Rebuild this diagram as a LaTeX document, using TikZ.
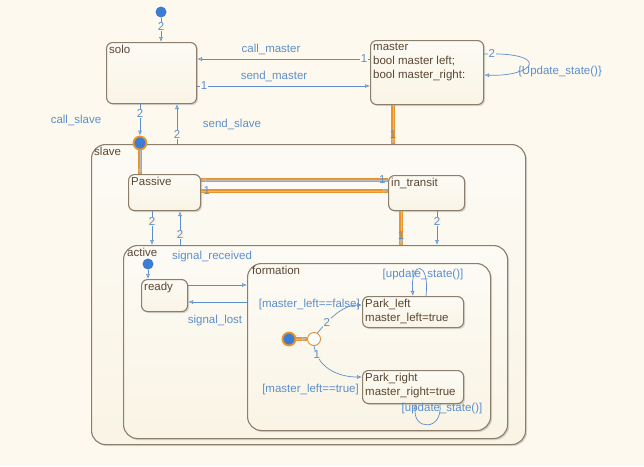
\documentclass[tikz,border=0pt]{standalone}
\usepackage{fontspec}
\setmainfont{Liberation Sans}
\usetikzlibrary{arrows.meta,shadows,positioning}
\definecolor{bgcol}{HTML}{FDF9EE}
\definecolor{stfill}{HTML}{F9F4E5}
\definecolor{stline}{HTML}{8C7E6C}
\definecolor{sttext}{HTML}{5A4631}
\definecolor{trblue}{HTML}{5B8FCB}
\definecolor{dotblue}{HTML}{3C7DD3}
\definecolor{hotorange}{HTML}{E7952E}
\definecolor{hotin}{HTML}{B7C0CA}
\tikzset{
  every node/.style={font=\fontsize{11.5}{14}\selectfont},
  state/.style={draw=stline, line width=1.1pt, rounded corners=6pt, top color=white!60!stfill, bottom color=stfill,
    drop shadow={opacity=0.3, shadow xshift=1.5pt, shadow yshift=-1.5pt}, anchor=north west, inner sep=0pt},
  bigstate/.style={state, rounded corners=14pt},
  stname/.style={anchor=north west, text=sttext, inner sep=3pt, align=left},
  tr/.style={draw=trblue, line width=0.7pt, -{Latex[open, length=5pt, width=4pt]}},
  hot/.style={draw=hotin, line width=0.7pt, -{Latex[open, length=5pt, width=4pt]}, preaction={draw=hotorange, line width=4pt, -}},
  lbl/.style={text=trblue, inner sep=1pt},
  num/.style={text=trblue, fill=bgcol, inner sep=0.5pt},
  dot/.style={circle, fill=dotblue, minimum size=11pt, inner sep=0pt},
  hotdot/.style={draw=hotorange, line width=1.8pt, minimum size=13pt},
  junc/.style={circle, fill=white, draw=hotorange!70!brown, line width=0.9pt, minimum size=13pt, inner sep=0pt}
}
\begin{document}
\begin{tikzpicture}[x=1pt, y=-1pt]
  \useasboundingbox[fill=bgcol] (0,0) rectangle (644,466);
  \node[bigstate, minimum width=434pt, minimum height=300pt] (slave) at (91,144) {};
  \node[stname] (slave-t) at (slave.north west) {slave};
  \node[bigstate, minimum width=384pt, minimum height=193pt] (active) at (123,245) {};
  \node[stname] (active-t) at ([xshift=1pt]active.north west) {active};
  \node[bigstate, minimum width=243pt, minimum height=167pt] (formation) at (247,263) {};
  \node[stname] (formation-t) at ([xshift=2pt]formation.north west) {formation};

  \node[state, minimum width=90pt, minimum height=61pt] (solo) at (106,42) {};
  \node[stname] (solo-t) at (solo.north west) {solo};
  \node[state, minimum width=113pt, minimum height=64pt] (master) at (370,40) {};
  \node[stname] (master-t) at (master.north west) {master\\bool master left;\\bool master\_right:};
  \node[state, minimum width=72pt, minimum height=36pt] (Passive) at (128,174) {};
  \node[stname] (Passive-t) at (Passive.north west) {Passive};
  \node[state, minimum width=76pt, minimum height=35pt] (in_transit) at (388,175) {};
  \node[stname] (in_transit-t) at (in_transit.north west) {in\_transit};
  \node[state, minimum width=46pt, minimum height=32pt] (ready) at (141,279) {};
  \node[stname] (ready-t) at (ready.north west) {ready};
  \node[state, minimum width=101pt, minimum height=31pt] (Park_left) at (362,296) {};
  \node[stname] (Park_left-t) at (Park_left.north west) {Park\_left\\master\_left=true};
  \node[state, minimum width=101pt, minimum height=33pt] (Park_right) at (362,370) {};
  \node[stname] (Park_right-t) at (Park_right.north west) {Park\_right\\master\_right=true};

  \node[dot] (d0) at (161,12) {};
  \draw[tr] (d0) -- node[num, pos=0.35] {2} (d0 |- solo.north);
  \draw[tr] (master.west |- 0,59) -- node[num, pos=0.035] {1} (solo.east |- 0,59);
  \node[lbl] (l-callm) at (271,49) {call\_master};
  \draw[tr] (solo.east |- 0,86) -- node[num, pos=0.04] {1} (master.west |- 0,86);
  \node[lbl] (l-sendm) at (274,76) {send\_master};
  \draw[tr] (master.east |- 0,54) .. controls (552,52) and (535,77) .. node[num, pos=0.04] {2} (master.east |- 0,75);
  \node[lbl] (l-upd) at (560,72) {\{Update\_state()\}};

  \node[dot, hotdot] (j1) at (140,143) {};
  \draw[tr] (solo.south -| j1) -- node[num, pos=0.3] {2} (j1);
  \node[lbl] (l-calls) at (76,120) {call\_slave};
  \draw[tr] (slave.north -| 177,0) -- node[num, pos=0.25] {2} (solo.south -| 177,0);
  \node[lbl] (l-sends) at (232,124) {send\_slave};
  \draw[hot] (master.south -| 393,0) -- node[num, fill=none, pos=0.75] {1} (slave.north -| 393,0);
  \draw[hot] (j1) -- (Passive.north -| j1);

  \draw[hot] (in_transit.west |- 0,180) -- node[num, fill=none, pos=0.03] {1} (Passive.east |- 0,180);
  \draw[hot] (Passive.east |- 0,191) -- node[num, fill=none, pos=0.03] {1} (in_transit.west |- 0,191);
  \draw[tr] (Passive.south -| 152,0) -- node[num, fill=stfill, pos=0.3] {2} (active.north -| 152,0);
  \draw[tr] (active.north -| 180,0) -- node[num, fill=stfill, pos=0.3] {2} (Passive.south -| 180,0);
  \draw[hot] (in_transit.south -| 401,0) -- node[num, fill=none, pos=0.72] {1} (active.north -| 401,0);
  \draw[tr] (in_transit.south -| 437,0) -- node[num, fill=stfill, pos=0.3] {2} (active.north -| 437,0);

  \node[dot] (d1) at (148,264) {};
  \draw[tr] (d1) -- (ready.north -| d1);
  \draw[tr] (ready.east |- 0,285) -- (formation.west |- 0,285);
  \node[lbl] (l-sigr) at (212,257) {signal\_received};
  \draw[tr] (formation.west |- 0,302) -- (ready.east |- 0,302);
  \node[lbl] (l-sigl) at (215,321) {signal\_lost};

  \node[dot, hotdot] (d2) at (289,339) {};
  \node[junc] (j2) at (314,339) {};
  \draw[hot] (d2) -- (j2);
  \draw[tr] (j2.60) .. controls (332,315) and (345,305) .. node[num, fill=stfill, pos=0.22] {2} (Park_left.west |- 0,305);
  \node[lbl, anchor=east] (l-mlf) at (361,305) {[master\_left==false]};
  \draw[tr] (j2.south) .. controls (318,368) and (338,377) .. node[num, fill=stfill, pos=0.15] {1} (Park_right.west |- 0,377);
  \node[lbl, anchor=east] (l-mlt) at (360,390) {[master\_left==true]};
  \draw[tr] (Park_left.north -| 426,0) .. controls (430,260) and (410,260) .. (Park_left.north -| 413,0);
  \node[lbl] (l-updl) at (423,275) {[update\_state()]};
  \draw[tr] (Park_right.south -| 440,0) .. controls (443,432) and (412,430) .. (Park_right.south -| 416,0);
  \node[lbl] (l-updr) at (442,409) {[update\_state()]};
\end{tikzpicture}
\end{document}
